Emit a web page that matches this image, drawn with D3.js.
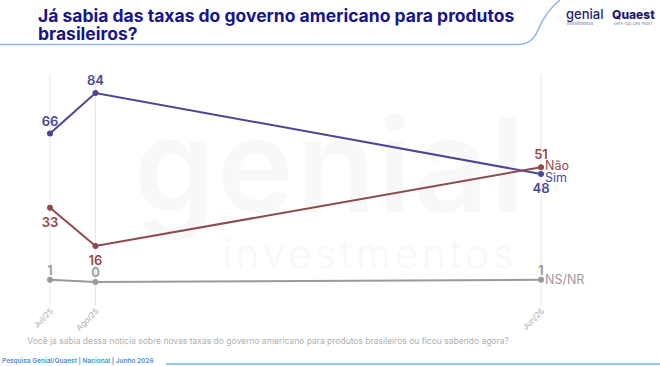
<!DOCTYPE html>
<html>
<head>
<meta charset="utf-8">
<script src="https://cdn.jsdelivr.net/npm/d3@7"></script>
<style>
  body { margin: 0; background: #fff; }
  svg { display: block; font-family: Inter, "Open Sans", sans-serif; }
</style>
</head>
<body>
<svg id="chart" width="660" height="366"></svg>
<script>
var dates = ["2025-07-01", "2025-08-01", "2026-06-01"];
var tickLabels = ["Jul/25", "Ago/25", "Jun/26"];
var sim = [66, 84, 48];
var nao = [33, 16, 51];
var nsnr = [1, 0, 1];

// label side per point: 1 = above, -1 = below
var series = [
  {name: "Sim", values: sim, color: "#4b4796", side: [1, 1, -1], gap: 8, endDy: 4},
  {name: "Não", values: nao, color: "#8e4a4a", side: [-1, -1, 1], gap: 8, endDy: -2},
  {name: "NS/NR", values: nsnr, color: "#9a9a9a", side: [1, 1, 1], gap: 5, endDy: 0}
];

var parse = d3.timeParse("%Y-%m-%d");
var dd = dates.map(parse);

var svg = d3.select("svg#chart");

var x = d3.scaleTime()
    .domain(d3.extent(dd))
    .range([50, 541]);

var y = d3.scaleLinear()
    .domain([0, 100])
    .range([282, 57]);

// watermark
var wm = svg.append("g").attr("fill", "#f8f8f8");
wm.append("text")
    .attr("x", 330).attr("y", 212)
    .attr("text-anchor", "middle")
    .attr("font-size", 130).attr("font-weight", 600)
    .attr("letter-spacing", 2)
    .text("genial");
wm.append("text")
    .attr("x", 370).attr("y", 268)
    .attr("text-anchor", "middle")
    .attr("font-size", 40).attr("font-weight", 300)
    .attr("letter-spacing", 4)
    .text("investmentos");

// title
svg.append("text")
    .attr("x", 38).attr("y", 22)
    .attr("fill", "#16168a")
    .attr("font-size", 17.5).attr("font-weight", 700)
    .text("Já sabia das taxas do governo americano para produtos");
svg.append("text")
    .attr("x", 38).attr("y", 40)
    .attr("fill", "#16168a")
    .attr("font-size", 17.5).attr("font-weight", 700)
    .text("brasileiros?");

svg.append("path")
    .attr("d", "M0,44.5 L518,44.5 C528,44.5 534,40 538,30 C543,18 550,8 560,0")
    .attr("fill", "none")
    .attr("stroke", "#8fb5e8")
    .attr("stroke-width", 1.5);

// logos
svg.append("text")
    .attr("x", 566).attr("y", 19)
    .attr("fill", "#1e1e6e")
    .attr("font-size", 13).attr("font-weight", 500)
    .text("genial");
svg.append("text")
    .attr("x", 567).attr("y", 25)
    .attr("fill", "#6a6a9a")
    .attr("font-size", 4)
    .text("investimentos");
svg.append("text")
    .attr("x", 612).attr("y", 19)
    .attr("fill", "#1e1e6e")
    .attr("font-size", 12).attr("font-weight", 800)
    .text("Quaest");
svg.append("text")
    .attr("x", 614).attr("y", 25)
    .attr("fill", "#6a6a9a")
    .attr("font-size", 3.5)
    .text("DATA YOU CAN TRUST");

// vertical gridlines
svg.append("g").selectAll("line")
    .data(dd)
    .enter().append("line")
      .attr("x1", function(d) { return x(d); })
      .attr("x2", function(d) { return x(d); })
      .attr("y1", 74).attr("y2", 306)
      .attr("stroke", "#e6e6e6")
      .attr("stroke-width", 1);

// x tick labels
var xAxis = d3.axisBottom(x)
    .tickValues(dd)
    .tickSize(0)
    .tickFormat(function(d, i) { return tickLabels[i]; });

var ax = svg.append("g")
    .attr("transform", "translate(0,306)")
    .call(xAxis);
ax.select(".domain").remove();
ax.selectAll("text")
    .attr("fill", "#aaaaaa")
    .attr("font-size", 8)
    .attr("font-family", "Inter, sans-serif")
    .attr("text-anchor", "end")
    .attr("transform", "rotate(-45)")
    .attr("dx", "-0.2em")
    .attr("dy", "0.4em");

var line = d3.line()
    .x(function(d, i) { return x(dd[i]); })
    .y(function(d) { return y(d); });

series.forEach(function(s) {
  var g = svg.append("g");
  g.append("path")
      .attr("d", line(s.values))
      .attr("fill", "none")
      .attr("stroke", s.color)
      .attr("stroke-width", 2);
  g.selectAll("circle")
      .data(s.values)
      .enter().append("circle")
        .attr("cx", function(d, i) { return x(dd[i]); })
        .attr("cy", function(d) { return y(d); })
        .attr("r", 3)
        .attr("fill", s.color);
  g.selectAll("text.val")
      .data(s.values)
      .enter().append("text")
        .attr("class", "val")
        .attr("x", function(d, i) { return x(dd[i]); })
        .attr("y", function(d, i) { return y(d) + (s.side[i] > 0 ? -s.gap : 19); })
        .attr("text-anchor", "middle")
        .attr("fill", s.color)
        .attr("font-size", 13).attr("font-weight", 600)
        .text(function(d) { return d; });
  var last = s.values.length - 1;
  g.append("text")
      .attr("x", x(dd[last]) + 4)
      .attr("y", y(s.values[last]) + s.endDy)
      .attr("dy", "0.35em")
      .attr("fill", s.color)
      .attr("font-size", 12.5)
      .text(s.name);
});

// question
svg.append("text")
    .attr("x", 268).attr("y", 344)
    .attr("text-anchor", "middle")
    .attr("fill", "#b0b0b0")
    .attr("font-size", 8.5)
    .text("Você já sabia dessa notícia sobre novas taxas do governo americano para produtos brasileiros ou ficou sabendo agora?");

// footer
svg.append("text")
    .attr("x", 2).attr("y", 363)
    .attr("fill", "#4a8fd9")
    .attr("font-size", 6.5).attr("font-weight", 600)
    .text("Pesquisa Genial/Quaest | Nacional | Junho 2026");
svg.append("line")
    .attr("x1", 166).attr("x2", 660)
    .attr("y1", 364).attr("y2", 364)
    .attr("stroke", "#7ab0ea")
    .attr("stroke-width", 1.5);
</script>
</body>
</html>
